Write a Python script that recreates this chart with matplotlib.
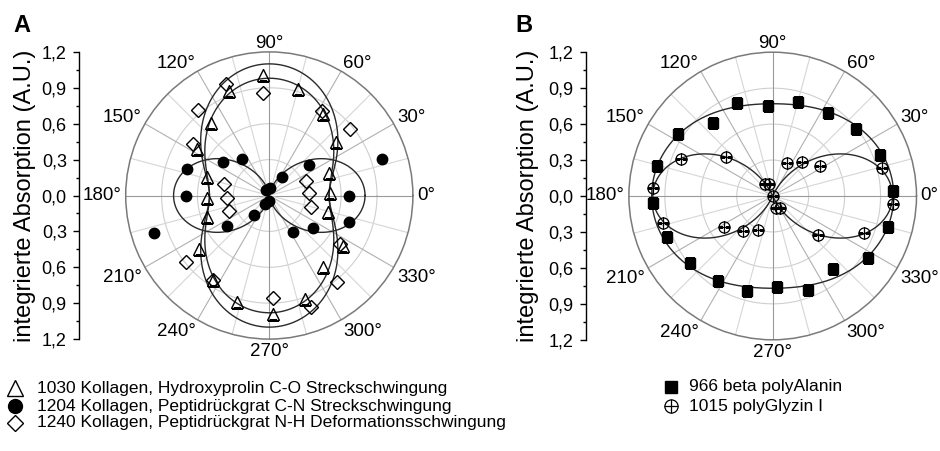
import numpy as np
import matplotlib
matplotlib.use("Agg")
import matplotlib.pyplot as plt
from matplotlib.lines import Line2D
from matplotlib.ticker import MultipleLocator, FixedLocator, FuncFormatter

plt.rcParams['font.family'] = ['Liberation Sans', 'DejaVu Sans']
plt.rcParams['font.size'] = 12

# ---------------- Panel A: collagen bands ----------------
# 1030 Kollagen, Hydroxyprolin C-O Streckschwingung (triangles)
a1030_deg = [2.5, 20.7, 38.8, 56.5, 74.8, 92.9, 110.9, 128.9, 147.5, 163.8,
             182.0, 199.3, 217.0, 236.3, 253.3, 271.6, 289.0, 307.1, 325.6, 344.5]
a1030_abs = [0.507, 0.536, 0.715, 0.820, 0.926, 1.006, 0.937, 0.780, 0.720, 0.540,
             0.524, 0.555, 0.736, 0.844, 0.928, 0.992, 0.916, 0.748, 0.749, 0.512]

# 1204 Kollagen, Peptidrueckgrat C-N Streckschwingung (filled circles)
a1204_deg = [0.0, 17.8, 37.2, 56.5, 85.0, 120.0, 127.5, 144.7, 162.5, 180.5,
             198.0, 215.7, 231.0, 245.0, 270.0, 303.5, 323.0, 341.8]
a1204_abs = [0.670, 0.986, 0.420, 0.187, 0.067, 0.050, 0.380, 0.478, 0.724, 0.700,
             1.010, 0.440, 0.206, 0.080, 0.045, 0.364, 0.455, 0.704]

# 1240 Kollagen, Peptidrueckgrat N-H Deformationsschwingung (diamonds)
a1240_deg = [2.9, 21.3, 39.3, 58.0, 93.7, 111.3, 129.8, 146.2, 165.2, 184.0,
             200.7, 218.5, 236.3, 272.2, 290.4, 308.2, 325.8, 344.0]
a1240_abs = [0.335, 0.329, 0.871, 0.828, 0.860, 0.998, 0.928, 0.771, 0.392, 0.352,
             0.363, 0.890, 0.844, 0.861, 0.992, 0.918, 0.714, 0.362]

# ---------------- Panel B: silk bands ----------------
# 966 beta polyAlanin (filled squares)
b966_deg = [2.5, 21.0, 38.8, 56.7, 74.8, 92.8, 111.2, 129.0, 147.0, 165.3,
            183.2, 201.3, 219.2, 237.0, 255.0, 273.0, 290.8, 309.3, 327.0, 344.8]
b966_abs = [1.004, 0.955, 0.890, 0.833, 0.817, 0.753, 0.831, 0.788, 0.947, 0.997,
            1.004, 0.951, 0.891, 0.844, 0.819, 0.759, 0.840, 0.792, 0.947, 1.000]

# 1015 polyGlyzin I (crossed circles)
b1015_deg = [356.2, 14.2, 32.7, 49.8, 67.2, 86.0, 105.0, 122.6, 140.4, 158.3,
             176.3, 194.0, 212.2, 229.0, 247.0, 285.0, 300.7, 319.5, 337.8]
b1015_abs = [1.002, 0.940, 0.470, 0.376, 0.302, 0.000, 0.107, 0.119, 0.507, 0.828,
             1.000, 0.942, 0.481, 0.383, 0.308, 0.107, 0.120, 0.500, 0.827]

# Orientation fits: r = offset + amplitude * cos^2(theta - phase), clipped at 0
fit_1030 = (0.50, 0.48, 90.0)
fit_1204 = (0.00, 0.80, 0.0)
fit_1240 = (0.50, 0.60, 90.0)
fit_966 = (0.77, 0.24, 0.0)
fit_1015 = (-0.20, 1.20, 0.0)

angle_ticks = list(range(0, 360, 30))
angle_labels = [f"{a}°" for a in angle_ticks]
r_ticks = [-1.2, -0.9, -0.6, -0.3, 0.0, 0.3, 0.6, 0.9, 1.2]

legend_a = ["1030 Kollagen, Hydroxyprolin C-O Streckschwingung",
            "1204 Kollagen, Peptidrückgrat C-N Streckschwingung",
            "1240 Kollagen, Peptidrückgrat N-H Deformationsschwingung"]
legend_b = ["966 beta polyAlanin", "1015 polyGlyzin I"]
y_label = "integrierte Absorption (A.U.)"

W, H = 940, 451
RMAX = 1.2
fig = plt.figure(figsize=(W / 100, H / 100), dpi=100)
fig.patch.set_facecolor("white")

LINE = "#2a2a2a"
MK = dict(linestyle="none", color="black", zorder=5)


def fx(px):
    return px / W


def fy(py):
    return 1 - py / H


def fit_curve(params):
    off, amp, ph = params
    t = np.linspace(0, 2 * np.pi, 1441)
    r = off + amp * np.cos(t - np.radians(ph)) ** 2
    return t, np.clip(r, 0, None)


def polar_panel(cx, cy, R):
    ax = fig.add_axes([fx(cx - R), fy(cy + R), 2 * R / W, 2 * R / H],
                      projection="polar")
    ax.set_ylim(0, RMAX)
    ax.grid(False)
    ax.set_yticks([])
    ax.set_xticks([])
    ax.spines["polar"].set_color("#7a7a7a")
    ax.spines["polar"].set_linewidth(1.1)
    full = np.linspace(0, 2 * np.pi, 721)
    for rr in (0.3, 0.6, 0.9):
        ax.plot(full, np.full_like(full, rr), color="#cfcfcf", lw=0.8, zorder=0.5)
    for d in range(0, 360, 15):
        if d % 90 == 0:
            c = "#9a9a9a"
        elif d % 30 == 0:
            c = "#b0b0b0"
        else:
            c = "#d6d6d6"
        ax.plot([np.radians(d)] * 2, [0, RMAX], color=c, lw=0.8, zorder=0.6)
    # angle labels just outside the rim, anchored on the side facing the circle
    for a, lab in zip(angle_ticks, angle_labels):
        c, s = np.cos(np.radians(a)), np.sin(np.radians(a))
        px = cx + (R + 4) * c
        py = cy - (R + 4) * s
        ha = "left" if c > 0.1 else ("right" if c < -0.1 else "center")
        va = "baseline" if s > 0.1 else ("top" if s < -0.1 else "center")
        fig.text(fx(px), fy(py), lab, ha=ha, va=va, fontsize=13.5)
    return ax


def radial_axis(x_spine, cy, R):
    ay = fig.add_axes([fx(x_spine), fy(cy + R), 0.0005, 2 * R / H])
    ay.set_ylim(-RMAX, RMAX)
    ay.patch.set_visible(False)
    for s in ("top", "right", "bottom"):
        ay.spines[s].set_visible(False)
    ay.spines["left"].set_linewidth(1.0)
    ay.set_xticks([])
    ay.yaxis.set_major_locator(FixedLocator(r_ticks))
    ay.yaxis.set_minor_locator(MultipleLocator(0.15))
    ay.yaxis.set_major_formatter(
        FuncFormatter(lambda v, p: f"{abs(v):.1f}".replace(".", ",")))
    ay.tick_params(axis="y", which="major", length=4, width=1.0, pad=5, labelsize=13)
    ay.tick_params(axis="y", which="minor", length=2.5, width=1.0)
    return ay


# ---- Panel A ----
axA = polar_panel(269.3, 195.5, 143.6)
for prm in (fit_1030, fit_1240, fit_1204):
    t, r = fit_curve(prm)
    axA.plot(t, r, color=LINE, lw=1.0, zorder=3)
axA.plot(np.radians(a1030_deg), a1030_abs, marker="^", ms=9, mfc="none", mew=1.0, **MK)
axA.plot(np.radians(a1204_deg), a1204_abs, marker="o", ms=7.5, mfc="black", **MK)
axA.plot(np.radians(a1240_deg), a1240_abs, marker="D", ms=7, mfc="none", mew=1.0, **MK)
radial_axis(79.3, 195.5, 143.6)
fig.text(fx(25), fy(195.5), y_label, rotation=90, ha="center", va="center", fontsize=17)
fig.text(fx(13), fy(32), "A", fontsize=17, fontweight="bold")

# ---- Panel B ----
axB = polar_panel(772.7, 196.0, 143.8)
for prm in (fit_966, fit_1015):
    t, r = fit_curve(prm)
    axB.plot(t, r, color=LINE, lw=1.0, zorder=3)
axB.plot(np.radians(b966_deg), b966_abs, marker="s", ms=6.5, mfc="black", **MK)
axB.plot(np.radians(b1015_deg), b1015_abs, marker="o", ms=8, mfc="none", mew=0.9, **MK)
axB.plot(np.radians(b1015_deg), b1015_abs, marker="+", ms=8, mew=0.9, **MK)
radial_axis(586.0, 196.0, 143.8)
fig.text(fx(528), fy(196), y_label, rotation=90, ha="center", va="center", fontsize=17)
fig.text(fx(515), fy(32), "B", fontsize=17, fontweight="bold")


# ---- Legends ----
def legend_entry(x, y, text, tx, markers):
    for m in markers:
        fig.add_artist(Line2D([fx(x)], [fy(y)], transform=fig.transFigure,
                              linestyle="none", color="black", **m))
    fig.text(fx(tx), fy(y), text, va="center", ha="left", fontsize=12.5)


legend_entry(15, 388, legend_a[0], 37,
             [dict(marker="^", ms=11, mfc="none", mew=1.0)])
legend_entry(15, 406, legend_a[1], 37,
             [dict(marker="o", ms=10, mfc="black")])
legend_entry(15, 423, legend_a[2], 37,
             [dict(marker="D", ms=8.5, mfc="none", mew=1.0)])
legend_entry(671, 387, legend_b[0], 689,
             [dict(marker="s", ms=8, mfc="black")])
legend_entry(671, 406, legend_b[1], 689,
             [dict(marker="o", ms=9.5, mfc="none", mew=0.9),
              dict(marker="+", ms=9.5, mew=0.9)])

fig.savefig("out.png", dpi=100, facecolor="white")
